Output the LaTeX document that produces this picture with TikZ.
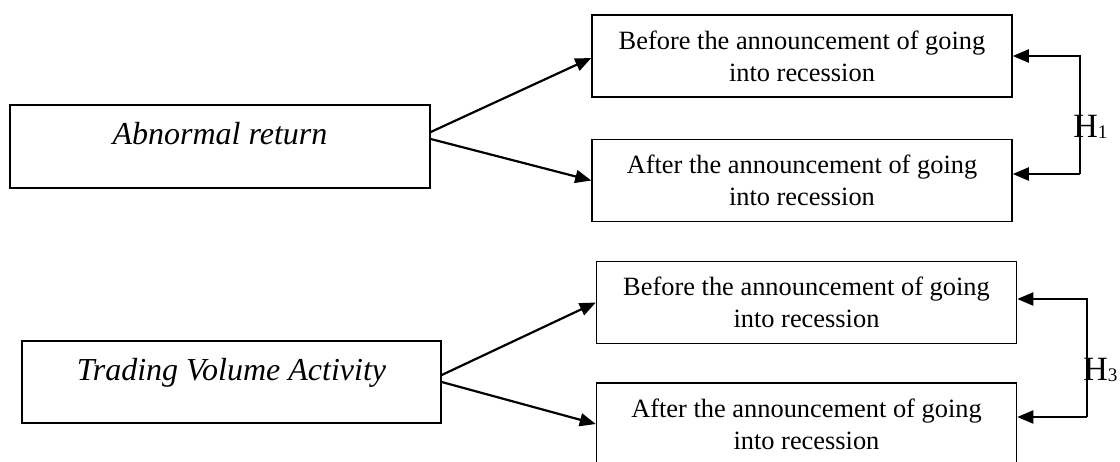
\documentclass[tikz,border=0pt]{standalone}
\usepackage{fontspec}
\setmainfont{Liberation Serif}
\usepackage{tikz}
\usetikzlibrary{arrows.meta,positioning,calc}
\tikzset{
    varblock/.style={draw=black, rectangle, line width=0.75pt,
                     minimum height=41.5pt, minimum width=210pt, inner sep=0pt,
                     sharp corners, font=\fontsize{16}{19}\selectfont\itshape,
                     text height=11pt, text depth=13pt},
    periodblock/.style={draw=black, rectangle, line width=0.75pt,
                        minimum height=41pt, minimum width=210pt, inner sep=0pt,
                        sharp corners, align=center,
                        font=\fontsize{13.2}{16}\selectfont},
    hyplabel/.style={inner sep=0pt, anchor=base west,
                     font=\fontsize{17}{20}\selectfont},
    % Arrow styles
    signal/.style={-{Triangle[length=8pt,width=6.5pt]}, line width=1.1pt},
    bracket/.style={-{Triangle[length=8pt,width=6.5pt]}, line width=1pt}
}
\newcommand{\hyp}[1]{H\raisebox{-0.8pt}{\fontsize{9.6}{11}\selectfont #1}}
\begin{document}
\begin{tikzpicture}[x=0.5pt, y=-0.5pt]
            \useasboundingbox (0,0) rectangle (1120,461);

            % Variable blocks
            \node[varblock] (abret) at (220,146.5) {Abnormal return};
            \node[varblock, minimum width=209.5pt, minimum height=41pt] (tva) at (231.5,382) {Trading Volume Activity};

            % Period blocks
            \node[periodblock] (before1) at (802,56) {Before the announcement of going\\into recession};
            \node[periodblock] (after1) at (802,180.5) {After the announcement of going\\into recession};
            \node[periodblock] (before2) at (806.5,302.5) {Before the announcement of going\\into recession};
            \node[periodblock] (after2) at (806.5,424) {After the announcement of going\\into recession};

            % Signal paths
            \draw[signal] ([yshift=7.25pt]abret.east) -- ([yshift=-1pt]before1.west);
            \draw[signal] ([yshift=3.75pt]abret.east) -- (after1.west);
            \draw[signal] ([yshift=3.5pt]tva.east) -- (before2.west);
            \draw[signal] (tva.east) -- (after2.west);

            % Hypothesis brackets
            \coordinate (h1corner) at ([xshift=33.5pt,yshift=3.25pt]after1.east);
            \draw[bracket] (h1corner) |- (before1.east);
            \draw[bracket] (h1corner) -- ([yshift=3.25pt]after1.east);
            \node[hyplabel] (h1) at (1073,137) {\hyp{1}};

            \coordinate (h3corner) at ([xshift=34.75pt,yshift=3.5pt]after2.east);
            \draw[bracket] (h3corner) |- ([yshift=1.75pt]before2.east);
            \draw[bracket] (h3corner) -- ([yshift=3.5pt]after2.east);
            \node[hyplabel] (h3) at (1083,380) {\hyp{3}};
        \end{tikzpicture}
\end{document}
